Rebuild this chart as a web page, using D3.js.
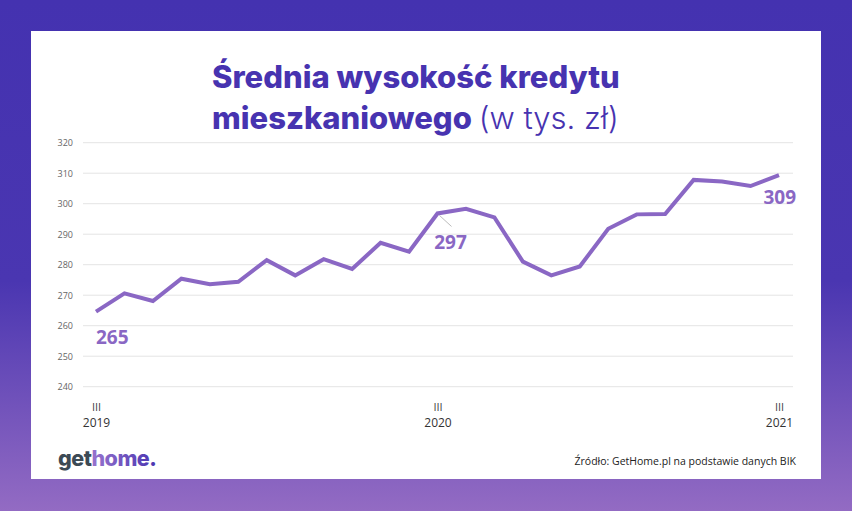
<!DOCTYPE html>
<html><head><meta charset="utf-8">
<script src="https://cdn.jsdelivr.net/npm/d3@7"></script>
<style>html,body{margin:0;padding:0;overflow:hidden;}svg{display:block;}</style>
</head><body>
<script>
const months = ["III 2019","IV 2019","V 2019","VI 2019","VII 2019","VIII 2019","IX 2019","X 2019","XI 2019","XII 2019",
"I 2020","II 2020","III 2020","IV 2020","V 2020","VI 2020","VII 2020","VIII 2020","IX 2020","X 2020","XI 2020","XII 2020",
"I 2021","II 2021","III 2021"];
const values = [264.6,270.6,268.1,275.4,273.6,274.4,281.5,276.5,281.8,278.6,287.2,284.3,296.8,298.3,295.5,281,276.5,279.4,291.8,296.5,296.6,307.8,307.3,305.8,309.4];
const yTicks = [240,250,260,270,280,290,300,310,320];
const xTickMonths = ["III 2019","III 2020","III 2021"];
const labelled = [{i:0,text:"265"},{i:12,text:"297"},{i:24,text:"309"}];

const W=852,H=511;
const svg=d3.select("body").append("svg").attr("width",W).attr("height",H);
const defs=svg.append("defs");
const bg=defs.append("linearGradient").attr("id","bg").attr("x1",0).attr("y1",0).attr("x2",0).attr("y2",1);
bg.append("stop").attr("offset","0%").attr("stop-color","#4432b0");
bg.append("stop").attr("offset","55%").attr("stop-color","#4a36b1");
bg.append("stop").attr("offset","100%").attr("stop-color","#936bc3");
svg.append("rect").attr("width",W).attr("height",H).attr("fill","url(#bg)");
svg.append("rect").attr("x",31).attr("y",31).attr("width",790).attr("height",448).attr("fill","#fff");

const x=d3.scalePoint().domain(months).range([96,779]);
const y=d3.scaleLinear().domain([240,320]).range([386.7,142.7]);

// grid
const g=svg.append("g");
g.selectAll("line.grid").data(yTicks).join("line")
 .attr("x1",83).attr("x2",793).attr("y1",d=>y(d)).attr("y2",d=>y(d))
 .attr("stroke","#e4e4e4").attr("stroke-width",1);
const yAxis=d3.axisLeft(y).tickValues(yTicks).tickSize(0).tickPadding(0);
const ya=svg.append("g").attr("transform","translate(73,0)").call(yAxis);
ya.select(".domain").remove();
ya.selectAll("text").attr("fill","#666").attr("font-family","'Open Sans',sans-serif").attr("font-size",9);

// x axis
const xAxis=d3.axisBottom(x).tickValues(xTickMonths).tickSize(0).tickFormat(()=> "");
const xa=svg.append("g").attr("transform","translate(0,400)").call(xAxis);
xa.select(".domain").remove();
xa.selectAll(".tick").each(function(d){
  const parts=d.split(" ");
  const t=d3.select(this);
  t.append("text").attr("y",11).attr("text-anchor","middle").attr("fill","#444")
   .attr("font-family","'Open Sans',sans-serif").attr("font-size",11).text(parts[0]);
  t.append("text").attr("y",27).attr("text-anchor","middle").attr("fill","#333")
   .attr("font-family","'Open Sans',sans-serif").attr("font-size",12).text(parts[1]);
});

// line
const line=d3.line().x((d,i)=>x(months[i])).y(d=>y(d));
svg.append("path").datum(values).attr("d",line).attr("fill","none")
 .attr("stroke","#8a67c4").attr("stroke-width",4).attr("stroke-linejoin","miter");

// labels
const lf="'Open Sans',sans-serif";
const lab=svg.append("g").attr("font-family",lf).attr("font-weight","bold").attr("font-size",19).attr("fill","#8a67c4");
lab.append("text").attr("x",x(months[0])).attr("y",y(values[0])+32).attr("text-anchor","start").text(labelled[0].text);
svg.append("line").attr("x1",x(months[12])+2).attr("y1",y(values[12])+2).attr("x2",x(months[12])+14).attr("y2",y(values[12])+13)
 .attr("stroke","#aaa").attr("stroke-width",0.8);
lab.append("text").attr("x",x(months[12])+13).attr("y",y(values[12])+36).attr("text-anchor","middle").text(labelled[1].text);
lab.append("text").attr("x",x(months[24])+17).attr("y",y(values[24])+29).attr("text-anchor","end").text(labelled[2].text);

// title
const tf="Inter, 'Open Sans', sans-serif";
const t1=svg.append("text").attr("x",212).attr("y",88).attr("font-family",tf).attr("font-weight",800)
 .attr("font-size",31).attr("fill","#4733b0").text("Średnia wysokość kredytu");
const t2=svg.append("text").attr("x",212).attr("y",129).attr("font-family",tf).attr("font-size",31).attr("fill","#4733b0");
t2.append("tspan").attr("font-weight",800).text("mieszkaniowego ");
t2.append("tspan").attr("font-weight",300).text("(w tys. zł)");

// logo
const logo=defs.append("linearGradient").attr("id","lg").attr("gradientUnits","userSpaceOnUse")
 .attr("x1",95).attr("y1",0).attr("x2",158).attr("y2",0);
logo.append("stop").attr("offset","0%").attr("stop-color","#9470cc");
logo.append("stop").attr("offset","100%").attr("stop-color","#4733b0");
const lt=svg.append("text").attr("x",58).attr("y",466).attr("font-family",tf).attr("font-weight",800).attr("font-size",21.5)
 .attr("letter-spacing",-0.5);
lt.append("tspan").attr("fill","#3c4a55").text("get");
lt.append("tspan").attr("fill","url(#lg)").text("home.");

svg.append("text").attr("x",796).attr("y",465).attr("text-anchor","end").attr("font-family","'Open Sans',sans-serif")
 .attr("font-size",10.5).attr("fill","#222").text("Źródło: GetHome.pl na podstawie danych BIK");
</script>
</body></html>
